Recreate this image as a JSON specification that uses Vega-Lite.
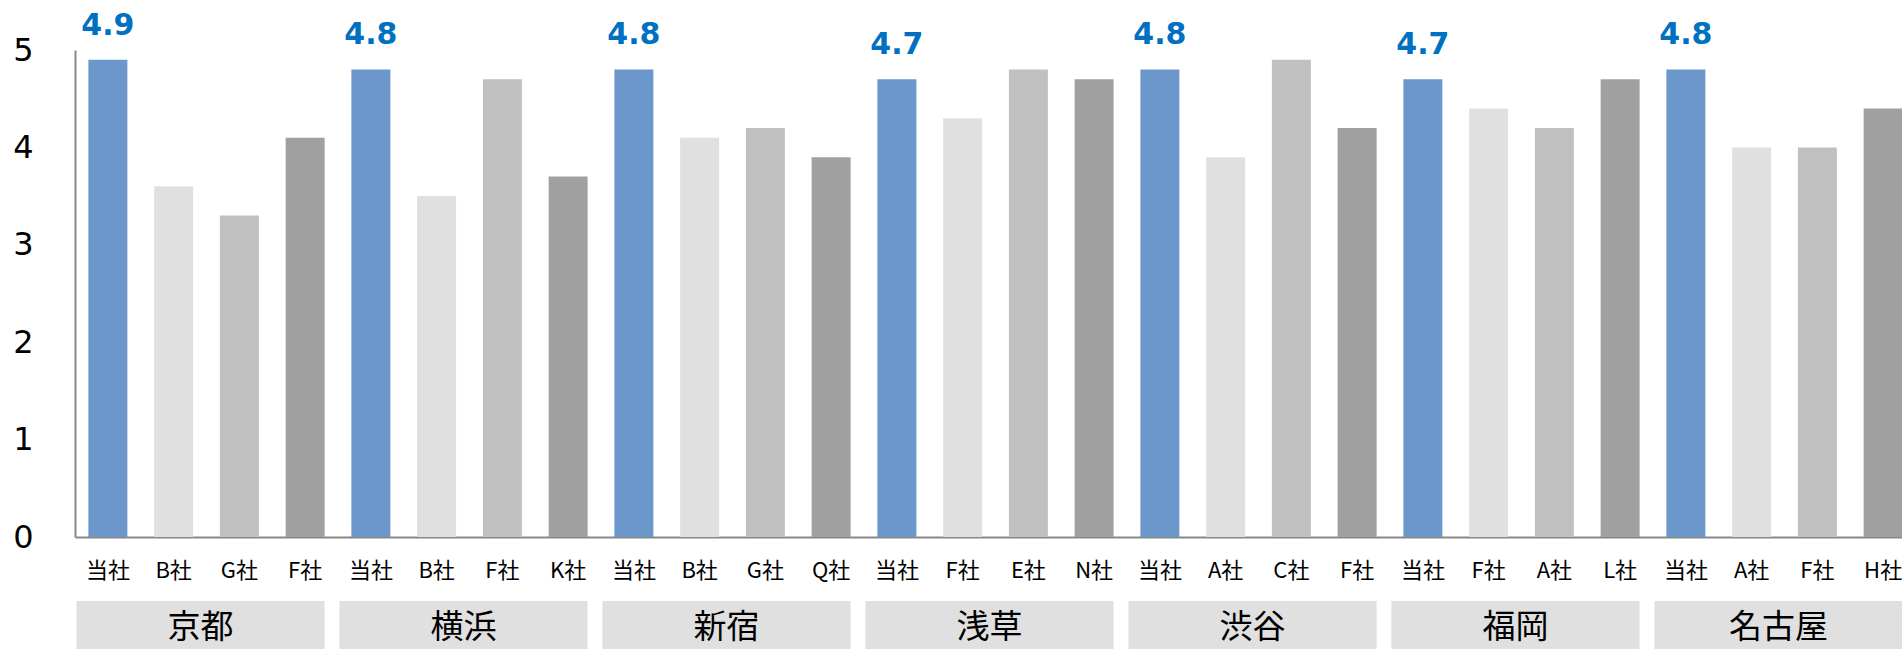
{
  "$schema": "https://vega.github.io/schema/vega-lite/v6.json",
  "width": 1827,
  "height": 487,
  "autosize": {"type": "none"},
  "padding": {"left": 75, "top": 50, "right": 0, "bottom": 112},
  "background": "white",
  "config": {"view": {"stroke": null}},
  "datasets": {
    "bars": [
      {"region": "京都", "company": "当社", "key": "京都|当社", "pos": 1, "score": 4.9},
      {"region": "京都", "company": "B社", "key": "京都|B社", "pos": 2, "score": 3.6},
      {"region": "京都", "company": "G社", "key": "京都|G社", "pos": 3, "score": 3.3},
      {"region": "京都", "company": "F社", "key": "京都|F社", "pos": 4, "score": 4.1},
      {"region": "横浜", "company": "当社", "key": "横浜|当社", "pos": 1, "score": 4.8},
      {"region": "横浜", "company": "B社", "key": "横浜|B社", "pos": 2, "score": 3.5},
      {"region": "横浜", "company": "F社", "key": "横浜|F社", "pos": 3, "score": 4.7},
      {"region": "横浜", "company": "K社", "key": "横浜|K社", "pos": 4, "score": 3.7},
      {"region": "新宿", "company": "当社", "key": "新宿|当社", "pos": 1, "score": 4.8},
      {"region": "新宿", "company": "B社", "key": "新宿|B社", "pos": 2, "score": 4.1},
      {"region": "新宿", "company": "G社", "key": "新宿|G社", "pos": 3, "score": 4.2},
      {"region": "新宿", "company": "Q社", "key": "新宿|Q社", "pos": 4, "score": 3.9},
      {"region": "浅草", "company": "当社", "key": "浅草|当社", "pos": 1, "score": 4.7},
      {"region": "浅草", "company": "F社", "key": "浅草|F社", "pos": 2, "score": 4.3},
      {"region": "浅草", "company": "E社", "key": "浅草|E社", "pos": 3, "score": 4.8},
      {"region": "浅草", "company": "N社", "key": "浅草|N社", "pos": 4, "score": 4.7},
      {"region": "渋谷", "company": "当社", "key": "渋谷|当社", "pos": 1, "score": 4.8},
      {"region": "渋谷", "company": "A社", "key": "渋谷|A社", "pos": 2, "score": 3.9},
      {"region": "渋谷", "company": "C社", "key": "渋谷|C社", "pos": 3, "score": 4.9},
      {"region": "渋谷", "company": "F社", "key": "渋谷|F社", "pos": 4, "score": 4.2},
      {"region": "福岡", "company": "当社", "key": "福岡|当社", "pos": 1, "score": 4.7},
      {"region": "福岡", "company": "F社", "key": "福岡|F社", "pos": 2, "score": 4.4},
      {"region": "福岡", "company": "A社", "key": "福岡|A社", "pos": 3, "score": 4.2},
      {"region": "福岡", "company": "L社", "key": "福岡|L社", "pos": 4, "score": 4.7},
      {"region": "名古屋", "company": "当社", "key": "名古屋|当社", "pos": 1, "score": 4.8},
      {"region": "名古屋", "company": "A社", "key": "名古屋|A社", "pos": 2, "score": 4.0},
      {"region": "名古屋", "company": "F社", "key": "名古屋|F社", "pos": 3, "score": 4.0},
      {"region": "名古屋", "company": "H社", "key": "名古屋|H社", "pos": 4, "score": 4.4}
    ],
    "regions": [
      {"region": "京都", "first": "京都|当社", "last": "京都|F社"},
      {"region": "横浜", "first": "横浜|当社", "last": "横浜|K社"},
      {"region": "新宿", "first": "新宿|当社", "last": "新宿|Q社"},
      {"region": "浅草", "first": "浅草|当社", "last": "浅草|N社"},
      {"region": "渋谷", "first": "渋谷|当社", "last": "渋谷|F社"},
      {"region": "福岡", "first": "福岡|当社", "last": "福岡|L社"},
      {"region": "名古屋", "first": "名古屋|当社", "last": "名古屋|H社"}
    ]
  },
  "layer": [
    {
      "data": {"name": "bars"},
      "mark": {"type": "bar"},
      "encoding": {
        "x": {
          "field": "key", "type": "nominal", "sort": null,
          "scale": {"range": [0, 1841], "paddingInner": 0.407, "paddingOuter": 0.2035},
          "axis": {
            "title": null, "labelAngle": 0, "ticks": false, "tickSize": 0,
            "labelExpr": "split(datum.label, '|')[1]",
            "labelFont": "Noto Sans CJK JP", "labelFontSize": 22, "labelColor": "#000000",
            "labelBaseline": "middle", "labelPadding": 33,
            "domainColor": "#888888", "domainWidth": 2, "grid": false
          }
        },
        "y": {
          "field": "score", "type": "quantitative",
          "scale": {"domain": [0, 5], "nice": false},
          "axis": {
            "title": null, "values": [0, 1, 2, 3, 4, 5], "format": "d", "grid": false, "ticks": false, "tickSize": 0,
            "labelFont": "DejaVu Sans", "labelFontSize": 32, "labelColor": "#000000",
            "labelPadding": 42, "domainColor": "#888888", "domainWidth": 2
          }
        },
        "color": {
          "field": "pos", "type": "nominal",
          "scale": {"domain": [1, 2, 3, 4], "range": ["#6C97CA", "#E0E0E0", "#C0C0C0", "#A0A0A0"]},
          "legend": null
        }
      }
    },
    {
      "data": {"name": "bars"},
      "transform": [{"filter": "datum.pos == 1"}],
      "mark": {"type": "text", "baseline": "alphabetic", "align": "center", "dy": -25,
               "font": "DejaVu Sans", "fontWeight": "bold", "fontSize": 30, "color": "#0070C0"},
      "encoding": {
        "x": {"field": "key", "type": "nominal", "sort": null},
        "y": {"field": "score", "type": "quantitative"},
        "text": {"field": "score", "type": "quantitative", "format": ".1f"}
      }
    },
    {
      "data": {"name": "regions"},
      "mark": {"type": "rect", "color": "#E0E0E0", "xOffset": -12},
      "encoding": {
        "x": {"field": "first", "type": "nominal", "sort": null, "bandPosition": 0},
        "x2": {"field": "last", "bandPosition": 1},
        "y": {"datum": -0.657, "type": "quantitative"},
        "y2": {"datum": -1.2}
      }
    },
    {
      "data": {"name": "regions"},
      "mark": {"type": "text", "baseline": "middle", "align": "center", "xOffset": 112,
               "font": "Noto Sans CJK JP", "fontSize": 33, "color": "#000000"},
      "encoding": {
        "x": {"field": "first", "type": "nominal", "sort": null, "bandPosition": 0},
        "y": {"datum": -0.934, "type": "quantitative"},
        "text": {"field": "region", "type": "nominal"}
      }
    }
  ]
}
